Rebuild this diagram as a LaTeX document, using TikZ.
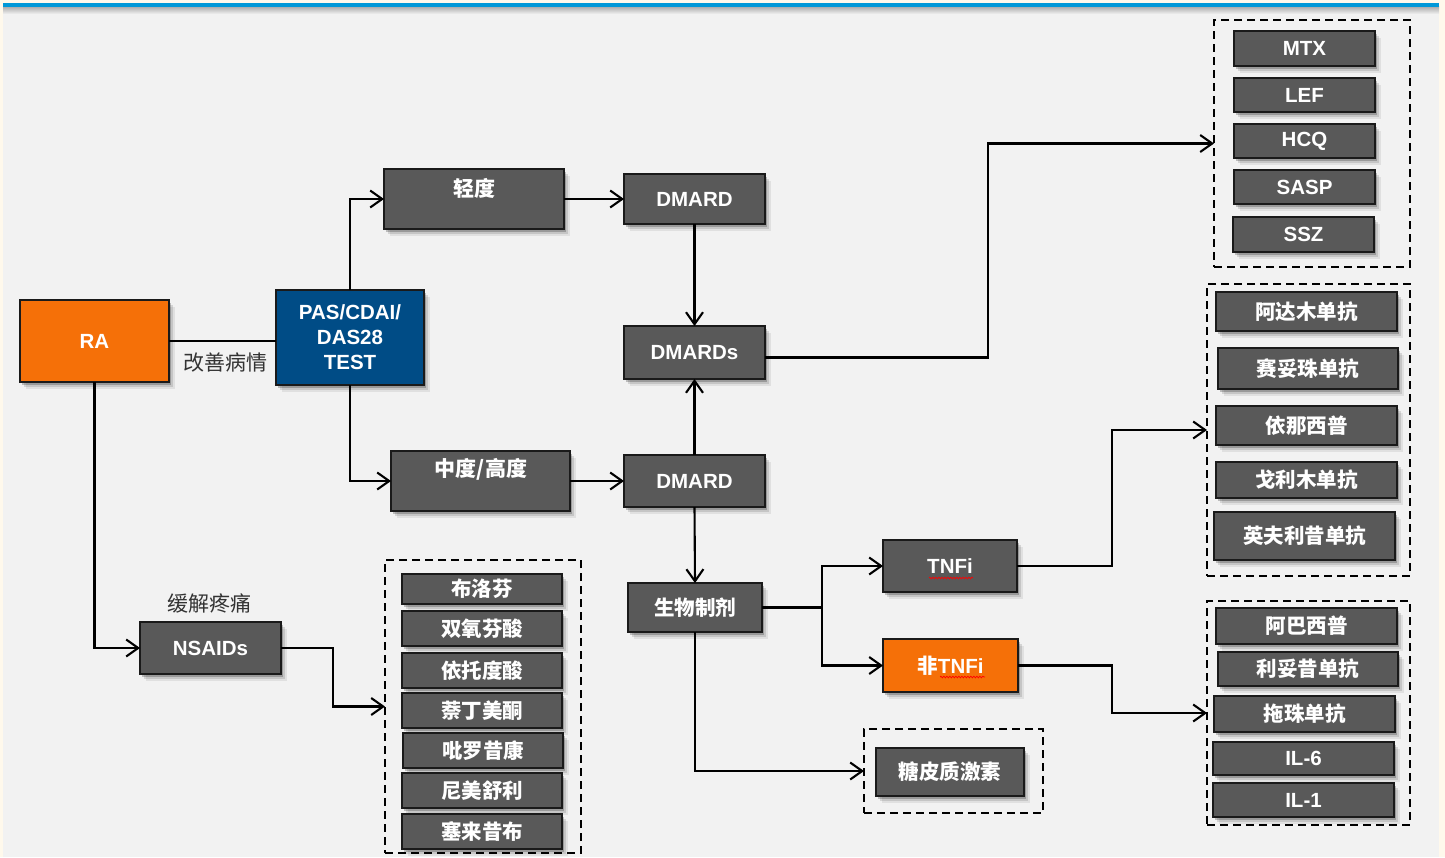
\documentclass[tikz,border=0pt]{standalone}
\usepackage{fontspec}
\setmainfont{Liberation Sans}
\newfontfamily\cjk{Noto Sans CJK SC}
\usetikzlibrary{arrows.meta,shadows,decorations.pathmorphing}
\definecolor{panel}{HTML}{F2F2F2}
\definecolor{cream}{HTML}{FFF9EC}
\definecolor{topblue}{HTML}{0098D8}
\definecolor{boxgray}{HTML}{595959}
\definecolor{raorange}{HTML}{F57008}
\definecolor{pasblue}{HTML}{004C86}
\definecolor{edge}{HTML}{1A1A1A}
\definecolor{lbl}{HTML}{333333}
\tikzset{
  shad/.style={drop shadow={shadow xshift=2pt,shadow yshift=-3pt,opacity=0.22,fill=black},
               drop shadow={shadow xshift=4pt,shadow yshift=-5pt,opacity=0.12,fill=black},
               drop shadow={shadow xshift=6pt,shadow yshift=-7pt,opacity=0.07,fill=black}},
  gbox/.style={shad,draw=edge,line width=2.2pt,fill=boxgray,inner sep=0pt,outer sep=0pt,
               anchor=north west,text=white,align=center,
               font=\bfseries\fontsize{20.5}{25}\selectfont},
  obox/.style={gbox,fill=raorange},
  bbox/.style={gbox,fill=pasblue},
  dbox/.style={draw=black,line width=2.2pt,dash pattern=on 8pt off 5pt,inner sep=0pt,
               outer sep=0pt,anchor=north west},
  wtxt/.style={text=white,font=\bfseries\fontsize{21}{25}\selectfont,inner sep=0pt},
  lbltxt/.style={text=lbl,font=\fontsize{21}{25}\selectfont,inner sep=0pt},
  conn/.style={draw=black,line width=2.1pt},
  arr/.style={conn,-{Straight Barb[length=12pt,width=17pt,line width=2.1pt]}},
  wavy/.style={draw=red,line width=0.7pt,decorate,decoration={snake,amplitude=0.8pt,segment length=3pt}}
}
\newcommand\bx[7]{\node[#1,minimum width={(#4-#2)*1pt},minimum height={(#5-#3)*1pt}] (#6) at (#2,#3) {#7};}
\newcommand\db[5]{\node[dbox,minimum width={(#4-#2)*1pt},minimum height={(#5-#3)*1pt}] (#1) at (#2,#3) {};}
\begin{document}
\begin{tikzpicture}[x=1pt,y=-1pt]
\useasboundingbox (0,0) rectangle (1445,857);
% background
\fill[cream] (0,0) rectangle (1445,857);
\fill[panel] (3,3) rectangle (1439,857);
\shade[top color=black!35,bottom color=panel] (3,6) rectangle (1439,14);
\fill[topblue] (3,3) rectangle (1439,6.5);

% dashed groups
\db{dmbox}{1214}{20}{1410}{267}
\db{tbox}{1207}{284}{1410}{576}
\db{nbox}{1207}{601}{1410}{825}
\db{sbox}{385}{560}{581}{853}
\db{gcbox}{864}{729}{1043}{813}

% main boxes
\bx{obox}{20}{300}{169}{382}{ra}{RA}
\bx{bbox}{276}{290}{424}{385}{pas}{PAS/CDAI/\\DAS28\\TEST}
\bx{gbox}{384}{169}{564}{229}{light}{}
\node[wtxt] (lighttxt) at (474,188) {\cjk 轻度};
\bx{gbox}{391}{451}{570}{511}{mid}{}
\node[wtxt] (midtxt) at (481,469) {\cjk 中度/高度};
\bx{gbox}{624}{174}{765}{224}{dmardA}{DMARD}
\bx{gbox}{624}{326}{765}{379}{dmards}{DMARDs}
\bx{gbox}{624}{455}{765}{507}{dmardB}{DMARD}
\bx{gbox}{628}{583}{762}{632}{bio}{\cjk 生物制剂}
\bx{gbox}{883}{540}{1017}{592}{tnfi}{TNFi}
\bx{obox}{883}{639}{1018}{692}{ntnfi}{{\cjk 非}TNFi}
\bx{gbox}{876}{748}{1024}{796}{gc}{\cjk 糖皮质激素}
\bx{gbox}{140}{622}{281}{674}{nsaids}{NSAIDs}

% labels
\node[lbltxt] (l1) at (225,363) {\cjk 改善病情};
\node[lbltxt] (l2) at (209,603) {\cjk 缓解疼痛};

% DMARD list
\bx{gbox}{1234}{31}{1375}{66}{mtx}{MTX}
\bx{gbox}{1234}{78}{1375}{112}{lef}{LEF}
\bx{gbox}{1234}{124}{1375}{158}{hcq}{HCQ}
\bx{gbox}{1234}{170}{1375}{204}{sasp}{SASP}
\bx{gbox}{1233}{217}{1374}{252}{ssz}{SSZ}

% TNFi list
\bx{gbox}{1216}{292}{1397}{331}{t1}{\cjk 阿达木单抗}
\bx{gbox}{1218}{348}{1398}{389}{t2}{\cjk 赛妥珠单抗}
\bx{gbox}{1216}{406}{1397}{445}{t3}{\cjk 依那西普}
\bx{gbox}{1216}{462}{1397}{498}{t4}{\cjk 戈利木单抗}
\bx{gbox}{1214}{512}{1395}{560}{t5}{\cjk 英夫利昔单抗}

% non-TNFi list
\bx{gbox}{1216}{608}{1397}{644}{n1}{\cjk 阿巴西普}
\bx{gbox}{1218}{652}{1398}{686}{n2}{\cjk 利妥昔单抗}
\bx{gbox}{1214}{696}{1395}{732}{n3}{\cjk 拖珠单抗}
\bx{gbox}{1213}{742}{1394}{775}{n4}{IL-6}
\bx{gbox}{1213}{783}{1394}{817}{n5}{IL-1}

% NSAIDs list
\bx{gbox}{402}{574}{562}{604}{s1}{\cjk 布洛芬}
\bx{gbox}{402}{611}{562}{646}{s2}{\cjk 双氧芬酸}
\bx{gbox}{402}{653}{562}{688}{s3}{\cjk 依托度酸}
\bx{gbox}{402}{693}{562}{728}{s4}{\cjk 萘丁美酮}
\bx{gbox}{403}{733}{563}{768}{s5}{\cjk 吡罗昔康}
\bx{gbox}{402}{773}{562}{808}{s6}{\cjk 尼美舒利}
\bx{gbox}{402}{814}{562}{849}{s7}{\cjk 塞来昔布}

% spell-check underlines
\draw[wavy] (929,578) -- (973,578);
\draw[wavy] (940,677) -- (985,677);

% connectors
\draw[conn] (ra.east |- 0,341) -- (pas.west |- 0,341);
\draw[arr] (pas.north) |- (light.west);
\draw[arr] (pas.south) |- (mid.west);
\draw[arr] (ra.south) |- (nsaids.west);
\draw[arr] (nsaids.east) -- ++(52,0) |- (sbox.west);
\draw[arr] (light.east) -- (dmardA.west);
\draw[arr] (dmardA.south) -- (dmards.north);
\draw[arr] (mid.east) -- (dmardB.west);
\draw[arr] (dmardB.north) -- (dmards.south);
\draw[arr] ([yshift=-5pt]dmards.east) -- ++(223,0) |- (dmbox.west);
\draw[arr] (dmardB.south) -- (bio.north);
\draw[arr] (bio.east) -- ++(60,0) |- (tnfi.west);
\draw[arr] (bio.east) -- ++(60,0) |- (ntnfi.west);
\draw[arr] (bio.south) |- (gcbox.west);
\draw[arr] (tnfi.east) -- ++(95,0) |- (tbox.west);
\draw[arr] (ntnfi.east) -- ++(94,0) |- (nbox.west);
\end{tikzpicture}
\end{document}
